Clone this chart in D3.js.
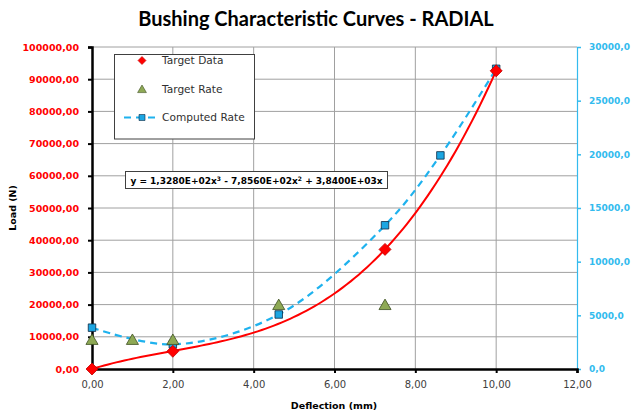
<!DOCTYPE html>
<html>
<head>
<meta charset="utf-8">
<script src="https://cdn.jsdelivr.net/npm/d3@7"></script>
<style>
  body { margin: 0; background: #fff; }
  svg { display: block; }
</style>
</head>
<body>
<script>
// data
let targetX = [0, 2, 7.25, 10]
let targetLoad = [0, 5500, 37150, 92600]

let rateX = [0, 1, 2, 4.62, 7.25]
let targetRate = [2750, 2750, 2750, 6000, 6000]

let computedX = [0, 2, 4.62, 7.25, 8.62, 10]
let computedRate = [3850, 2290, 5080, 13390, 19900, 27970]

// trendline coefficients shown in the chart (x^3, x^2, x)
let trendCoef = [132.8, -785.6, 3840]

let xTicks = [0, 2, 4, 6, 8, 10, 12]
let loadTicks = [0, 10000, 20000, 30000, 40000, 50000, 60000, 70000, 80000, 90000, 100000]
let rateTicks = [0, 5000, 10000, 15000, 20000, 25000, 30000]

let width = 631, height = 414
let plotL = 92, plotR = 577, plotT = 47, plotB = 369

let svg = d3.select("body")
    .append("svg")
    .attr("width", width)
    .attr("height", height)

let x = d3.scaleLinear().domain([0, 12]).range([plotL, plotR])
let yL = d3.scaleLinear().domain([0, 100000]).range([plotB, plotT])
let yR = d3.scaleLinear().domain([0, 30000]).range([plotB, plotT])

let comma = (d, n) => d.toFixed(n).replace(".", ",")

// title
svg.append("text")
    .attr("x", 316).attr("y", 26)
    .attr("text-anchor", "middle")
    .style("font-family", "Lato, 'Open Sans', sans-serif")
    .style("font-weight", "bold")
    .style("font-size", "20px")
    .text("Bushing Characteristic Curves - RADIAL")

// grid
svg.append("g").selectAll("line")
    .data(loadTicks.slice(1))
    .enter().append("line")
    .attr("x1", plotL).attr("x2", plotR)
    .attr("y1", d => yL(d)).attr("y2", d => yL(d))
    .attr("stroke", "#a0a0a0")

svg.append("g").selectAll("line")
    .data(xTicks.slice(1, -1))
    .enter().append("line")
    .attr("x1", d => x(d)).attr("x2", d => x(d))
    .attr("y1", plotT).attr("y2", plotB)
    .attr("stroke", "#a0a0a0")

// axes
let gLeft = svg.append("g")
    .attr("transform", `translate(${plotL},0)`)
    .call(d3.axisLeft(yL).tickValues(loadTicks).tickSize(4).tickPadding(9).tickFormat(d => comma(d, 2)))
gLeft.select(".domain").attr("stroke", "#000").attr("stroke-width", 2.5)
gLeft.selectAll(".tick line").attr("stroke", "#000").attr("stroke-width", 2)
gLeft.selectAll(".tick text")
    .attr("fill", "#ff0000")
    .style("font-family", "'DejaVu Sans', sans-serif")
    .style("font-weight", "bold")
    .style("font-size", "9.5px")

let gRight = svg.append("g")
    .attr("transform", `translate(${plotR},0)`)
    .call(d3.axisRight(yR).tickValues(rateTicks).tickSize(4).tickPadding(8).tickFormat(d => comma(d, 1)))
gRight.select(".domain").attr("stroke", "#33bbee").attr("stroke-width", 1.2)
gRight.selectAll(".tick line").attr("stroke", "#33bbee").attr("stroke-width", 1.5)
gRight.selectAll(".tick text")
    .attr("fill", "#33bbee")
    .style("font-family", "'DejaVu Sans', sans-serif")
    .style("font-weight", "bold")
    .style("font-size", "9px")

let gBottom = svg.append("g")
    .attr("transform", `translate(0,${plotB})`)
    .call(d3.axisBottom(x).tickValues(xTicks).tickSize(4).tickPadding(8).tickFormat(d => comma(d, 2)))
gBottom.select(".domain").attr("stroke", "#000").attr("stroke-width", 2.5)
gBottom.selectAll(".tick line").attr("stroke", "#000").attr("stroke-width", 2)
gBottom.selectAll(".tick text")
    .attr("fill", "#404040")
    .style("font-family", "'DejaVu Sans', sans-serif")
    .style("font-size", "10px")

// axis titles
svg.append("text")
    .attr("transform", "translate(16,208) rotate(-90)")
    .attr("text-anchor", "middle")
    .style("font-family", "'DejaVu Sans', sans-serif")
    .style("font-weight", "bold")
    .style("font-size", "9.5px")
    .text("Load (N)")

svg.append("text")
    .attr("x", 334).attr("y", 409)
    .attr("text-anchor", "middle")
    .style("font-family", "'DejaVu Sans', sans-serif")
    .style("font-weight", "bold")
    .style("font-size", "9.5px")
    .text("Deflection (mm)")

// marker shapes
let diamond = r => `M0,${-r}L${r},0L0,${r}L${-r},0Z`
let triangle = w => `M0,${-w * 0.5}L${w * 0.55},${w * 0.45}L${-w * 0.55},${w * 0.45}Z`
let square = s => `M${-s / 2},${-s / 2}h${s}v${s}h${-s}Z`

// computed rate dashed smooth line
let computed = computedX.map((d, i) => [d, computedRate[i]])
svg.append("path")
    .attr("d", d3.line().x(d => x(d[0])).y(d => yR(d[1])).curve(d3.curveCatmullRom.alpha(0.5))(computed))
    .attr("fill", "none")
    .attr("stroke", "#1fb2ee")
    .attr("stroke-width", 2.2)
    .attr("stroke-dasharray", "7,5")

svg.append("g").selectAll("path")
    .data(computed)
    .enter().append("path")
    .attr("transform", d => `translate(${x(d[0])},${yR(d[1])})`)
    .attr("d", square(7.5))
    .attr("fill", "#1ca6e2")
    .attr("stroke", "#0c2a44")
    .attr("stroke-width", 0.8)

// target rate
let rate = rateX.map((d, i) => [d, targetRate[i]])
svg.append("g").selectAll("path")
    .data(rate)
    .enter().append("path")
    .attr("transform", d => `translate(${x(d[0])},${yR(d[1])})`)
    .attr("d", triangle(11))
    .attr("fill", "#8ea955")
    .attr("stroke", "#3e4f22")
    .attr("stroke-width", 0.8)

// polynomial trendline
let trend = d3.range(0, 10.001, 0.1).map(t => [t, trendCoef[0] * t * t * t + trendCoef[1] * t * t + trendCoef[2] * t])
svg.append("path")
    .attr("d", d3.line().x(d => x(d[0])).y(d => yL(d[1]))(trend))
    .attr("fill", "none")
    .attr("stroke", "#ff0000")
    .attr("stroke-width", 2)

// target data
let target = targetX.map((d, i) => [d, targetLoad[i]])
svg.append("g").selectAll("path")
    .data(target)
    .enter().append("path")
    .attr("transform", d => `translate(${x(d[0])},${yL(d[1])})`)
    .attr("d", diamond(6))
    .attr("fill", "#ff0000")
    .attr("stroke", "#c00000")
    .attr("stroke-width", 0.8)

// legend
let legend = svg.append("g")
legend.append("rect")
    .attr("x", 114.5).attr("y", 54.5)
    .attr("width", 140).attr("height", 84.5)
    .attr("fill", "#fff")
    .attr("stroke", "#404040")

let legendItems = ["Target Data", "Target Rate", "Computed Rate"]
let legendY = [60.5, 89, 117.5]
legend.selectAll("text")
    .data(legendItems)
    .enter().append("text")
    .attr("x", 162).attr("y", (d, i) => legendY[i])
    .attr("dy", "0.35em")
    .attr("fill", "#303030")
    .style("font-family", "'DejaVu Sans', sans-serif")
    .style("font-size", "10.6px")
    .text(d => d)

legend.append("path").attr("transform", `translate(142,${legendY[0]})`).attr("d", diamond(4))
    .attr("fill", "#ff0000").attr("stroke", "#c00000").attr("stroke-width", 0.6)
legend.append("path").attr("transform", `translate(142,${legendY[1]})`).attr("d", triangle(8))
    .attr("fill", "#8ea955").attr("stroke", "#3e4f22").attr("stroke-width", 0.6)
legend.append("line")
    .attr("x1", 124).attr("x2", 160).attr("y1", legendY[2]).attr("y2", legendY[2])
    .attr("stroke", "#1fb2ee").attr("stroke-width", 2.2).attr("stroke-dasharray", "7,5")
legend.append("path").attr("transform", `translate(142,${legendY[2]})`).attr("d", square(6))
    .attr("fill", "#1ca6e2").attr("stroke", "#0c2a44").attr("stroke-width", 0.6)

// equation label
let eq = svg.append("g")
eq.append("rect")
    .attr("x", 125.5).attr("y", 171.5)
    .attr("width", 262).attr("height", 17)
    .attr("fill", "#fff")
    .attr("stroke", "#404040")

let eqText = eq.append("text")
    .attr("x", 256.5).attr("y", 184)
    .attr("text-anchor", "middle")
    .attr("fill", "#000")
    .style("font-family", "'DejaVu Sans', sans-serif")
    .style("font-weight", "bold")
    .style("font-size", "9px")
let parts = [
    ["y = " + comma(trendCoef[0] / 100, 4) + "E+02x", false], ["3", true],
    [" - " + comma(-trendCoef[1] / 100, 4) + "E+02x", false], ["2", true],
    [" + " + comma(trendCoef[2] / 1000, 4) + "E+03x", false]
]
parts.forEach(p => {
    eqText.append("tspan")
        .attr("baseline-shift", p[1] ? "super" : null)
        .style("font-size", p[1] ? "6px" : null)
        .text(p[0])
})
</script>
</body>
</html>
